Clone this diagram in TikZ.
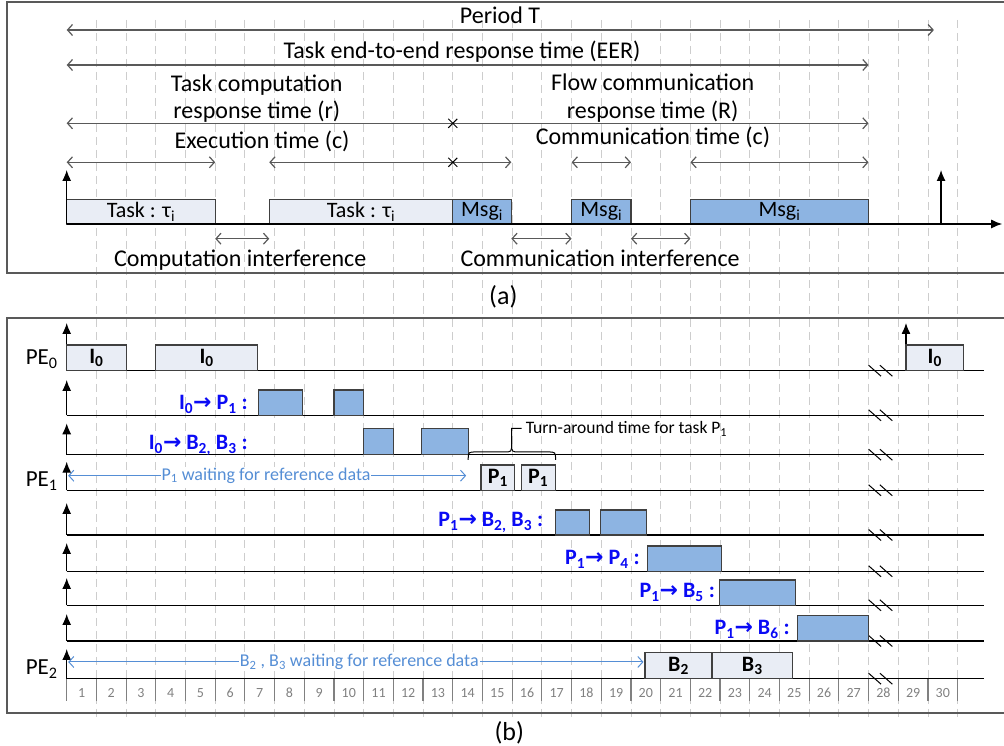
\documentclass[tikz,border=0pt]{standalone}
\usepackage{fontspec}
\setmainfont{Carlito}
\newfontfamily\arrfont{DejaVu Sans}
\usetikzlibrary{arrows.meta,calc,shapes.misc}

\definecolor{tasklight}{RGB}{233,237,245}
\definecolor{msgblue}{RGB}{141,180,226}
\definecolor{edgegray}{RGB}{64,64,64}
\definecolor{dimgray}{RGB}{89,89,89}
\definecolor{gridgray}{RGB}{205,205,205}
\definecolor{numgray}{RGB}{128,128,128}
\definecolor{flowblue}{RGB}{10,10,245}
\definecolor{waitblue}{RGB}{85,142,213}

\newcommand\arr{{\arrfont\bfseries →}}

\tikzset{
  gridline/.style={draw=gridgray, line width=0.9pt, dash pattern=on 8pt off 5pt},
  frame/.style={draw=dimgray, line width=1.5pt},
  taskbox/.style={draw=edgegray, fill=tasklight, line width=1.2pt},
  msgbox/.style={draw=edgegray, fill=msgblue, line width=1.2pt},
  axisline/.style={draw=black, line width=1.3pt},
  vec/.style={draw=black, line width=1.3pt, -{Latex[length=11pt,width=9pt]}},
  dimboth/.style={draw=dimgray, line width=1.2pt,
    {Straight Barb[length=5pt,width=11pt]}-{Straight Barb[length=5pt,width=11pt]}},
  dimleft/.style={draw=dimgray, line width=1.2pt, {Straight Barb[length=5pt,width=11pt]}-},
  dimright/.style={draw=dimgray, line width=1.2pt, -{Straight Barb[length=5pt,width=11pt]}},
  crossmark/.style={draw=black, cross out, line width=1pt, minimum size=8pt, inner sep=0pt},
  captext/.style={inner sep=0pt, anchor=base, font=\fontsize{24}{28}\selectfont},
  boxtext/.style={inner sep=0pt, font=\fontsize{22}{24}\selectfont},
  boxbold/.style={inner sep=0pt, font=\fontsize{22}{24}\selectfont\bfseries},
  flowtext/.style={inner sep=0pt, anchor=base east, text=flowblue,
    font=\fontsize{22}{24}\selectfont\bfseries},
  petext/.style={inner sep=0pt, anchor=base east, font=\fontsize{23}{26}\selectfont},
  waitarrow/.style={draw=waitblue, line width=1pt,
    {Straight Barb[length=5pt,width=11pt]}-{Straight Barb[length=5pt,width=11pt]}},
  waittext/.style={fill=white, inner sep=1pt, text=waitblue, font=\fontsize{18}{20}\selectfont},
  numtext/.style={inner sep=0pt, text=numgray, font=\fontsize{14}{16}\selectfont},
  tickline/.style={draw=numgray, line width=1.2pt},
  breakmark/.style={draw=black, line width=1pt}
}

\begin{document}
\begin{tikzpicture}[x=29.7pt, y=-1pt]
\useasboundingbox (-2.246,0) rectangle (31.56,746);

% grid
\foreach \k in {1,...,30}
  \draw[gridline] (\k,20) -- (\k,717);

% frames
\draw[frame] (-2.01,2) rectangle (31.9,273);
\draw[frame] (-2.01,318) rectangle (31.9,713);

%%% (a)
\coordinate (T0) at (0,0);
\coordinate (T5) at (5,0);
\coordinate (T6) at (6.82,0);
\coordinate (T13) at (13,0);
\coordinate (T15) at (14.97,0);
\coordinate (T17) at (17,0);
\coordinate (T19) at (19,0);
\coordinate (T21) at (21,0);
\coordinate (T27) at (27,0);
\coordinate (T29) at (29.2,0);
\coordinate (yper) at (0,30);
\coordinate (yeer) at (0,65);
\coordinate (yresp) at (0,123.3);
\coordinate (yexec) at (0,162.3);
\coordinate (yint) at (0,238.7);

\path[taskbox] (0,199.3) rectangle (5,224) node[midway, boxtext] (task1) {Task : τ\textsubscript{i}};
\path[taskbox] (6.82,199.3) rectangle (13,224) node[midway, boxtext] (task2) {Task : τ\textsubscript{i}};
\path[msgbox] (13,199.3) rectangle (14.97,224) node[midway, boxtext] (msg1) {Msg\textsubscript{i}};
\path[msgbox] (17,199.3) rectangle (19,224) node[midway, boxtext] (msg2) {Msg\textsubscript{i}};
\path[msgbox] (21,199.3) rectangle (27,224) node[midway, boxtext] (msg3) {Msg\textsubscript{i}};

\draw[axisline, -{Latex[length=11pt,width=9pt]}] (0,224) -- (31.5,224);
\draw[vec] (0,224) -- (0,170);
\draw[vec] (29.44,224) -- (29.44,170);

\draw[dimboth] (T0 |- yper) -- (T29 |- yper);
\draw[dimboth] (T0 |- yeer) -- (T27 |- yeer);
\draw[dimleft] (T0 |- yresp) -- (T13 |- yresp);
\draw[dimright] (T13 |- yresp) -- (T27 |- yresp);
\draw[dimboth] (T0 |- yexec) -- (T5 |- yexec);
\draw[dimleft] (T6 |- yexec) -- (T13 |- yexec);
\draw[dimright] (T13 |- yexec) -- (T15 |- yexec);
\draw[dimboth] (T17 |- yexec) -- (T19 |- yexec);
\draw[dimboth] (T21 |- yexec) -- (T27 |- yexec);
\draw[dimboth] (T5 |- yint) -- (T6 |- yint);
\draw[dimboth] (T15 |- yint) -- (T17 |- yint);
\draw[dimboth] (T19 |- yint) -- (T21 |- yint);
\node[crossmark] (xresp) at (T13 |- yresp) {};
\node[crossmark] (xexec) at (T13 |- yexec) {};

\node[captext] (period) at (14.59,24) {Period T};
\node[captext] (eer) at (13.31,58.3) {Task end-to-end response time (EER)};
\node[captext] (tcr1) at (6.4,91.7) {Task computation};
\node[captext] (tcr2) at (6.4,119) {response time (r)};
\node[captext] (exec) at (6.58,148.3) {Execution time (c)};
\node[captext] (fcr1) at (19.73,90.7) {Flow communication};
\node[captext] (fcr2) at (19.73,118.3) {response time (R)};
\node[captext] (comm) at (19.74,145) {Communication time (c)};
\node[captext] (cint) at (5.84,266.7) {Computation interference};
\node[captext] (mint) at (17.96,266.7) {Communication interference};
\node[captext, anchor=center, font=\fontsize{26}{28}\selectfont] (laba) at (14.7,297) {(a)};

%%% (b)
\foreach \b/\t in {370.7/323, 415.3/380, 454.7/423.3, 490.3/461.7, 535/503,
                   571.3/543, 605.3/578, 641/614, 678.7/649} {
  \draw[axisline] (0,\b) -- (30.89,\b);
  \draw[vec] (0,\b) -- (0,\t);
  \draw[breakmark] (27.0,\b-5.5) -- (27.42,\b+5.5) (27.38,\b-5.5) -- (27.8,\b+5.5);
}
\draw[vec] (28.26,370.7) -- (28.26,323);

% PE0
\path[taskbox] (0,345) rectangle (2,370.7) node[midway, boxbold] (i0a) {I\textsubscript{0}};
\path[taskbox] (3,345) rectangle (6.42,370.7) node[midway, boxbold] (i0b) {I\textsubscript{0}};
\path[taskbox] (28.26,345) rectangle (30.2,370.7) node[midway, boxbold] (i0c) {I\textsubscript{0}};
% flows
\path[msgbox] (6.45,390) rectangle (7.95,415.3) coordinate (f1a);
\path[msgbox] (9,390) rectangle (10,415.3) coordinate (f1b);
\path[msgbox] (10,428.3) rectangle (11,454.7) coordinate (f2a);
\path[msgbox] (11.95,428.3) rectangle (13.52,454.7) coordinate (f2b);
\path[msgbox] (16.45,510) rectangle (17.59,535) coordinate (f3a);
\path[msgbox] (17.98,510) rectangle (19.53,535) coordinate (f3b);
\path[msgbox] (19.55,546) rectangle (22.04,571.3) coordinate (f4);
\path[msgbox] (21.99,580) rectangle (24.53,605.3) coordinate (f5);
\path[msgbox] (24.61,615.7) rectangle (27,641) coordinate (f6);
% PE1
\path[taskbox] (13.95,465) rectangle (15.09,490.3) node[midway, boxbold] (p1a) {P\textsubscript{1}};
\path[taskbox] (15.3,465) rectangle (16.45,490.3) node[midway, boxbold] (p1b) {P\textsubscript{1}};
% PE2
\path[taskbox] (19.47,652.7) rectangle (21.73,678.7) node[midway, boxbold] (b2) {B\textsubscript{2}};
\path[taskbox] (21.73,652.7) rectangle (24.44,678.7) node[midway, boxbold] (b3) {B\textsubscript{3}};

\node[flowtext] (l1) at (6.1,410) {I\textsubscript{0}\arr\ P\textsubscript{1} :};
\node[flowtext] (l2) at (6.1,450) {I\textsubscript{0}\arr\ B\textsubscript{2,} B\textsubscript{3} :};
\node[flowtext] (l3) at (16.05,527) {P\textsubscript{1}\arr\ B\textsubscript{2,} B\textsubscript{3} :};
\node[flowtext] (l4) at (19.3,565) {P\textsubscript{1}\arr\ P\textsubscript{4} :};
\node[flowtext] (l5) at (21.83,598) {P\textsubscript{1}\arr\ B\textsubscript{5} :};
\node[flowtext] (l6) at (24.35,635) {P\textsubscript{1}\arr\ B\textsubscript{6} :};

\node[petext] (pe0) at (-0.3,365) {PE\textsubscript{0}};
\node[petext] (pe1) at (-0.3,486.7) {PE\textsubscript{1}};
\node[petext] (pe2) at (-0.3,675) {PE\textsubscript{2}};

% waiting
\coordinate (w1s) at (0.05,475.7);
\coordinate (w1e) at (13.45,475.7);
\coordinate (w2s) at (0.05,662);
\coordinate (w2e) at (19.42,662);
\draw[waitarrow] (w1s) -- node[waittext, pos=0.497] (w1) {P\textsubscript{1} waiting for reference data} (w1e);
\draw[waitarrow] (w2s) -- node[waittext, pos=0.506] (w2) {B\textsubscript{2} , B\textsubscript{3} waiting for reference data} (w2e);

% turn-around brace
\draw[line width=1pt] (13.52,460) .. controls (13.52,452) .. (13.78,452) -- (14.72,452)
  .. controls (14.98,452) .. (14.98,444) -- (14.98,428.3) -- (15.32,428.3);
\draw[line width=1pt] (14.98,444) .. controls (14.98,452) .. (15.26,452) -- (16.2,452)
  .. controls (16.46,452) .. (16.46,460);
\node[inner sep=0pt, anchor=base west, font=\fontsize{17.5}{19}\selectfont] (turn)
  at (15.45,434) {Turn-around time for task P\textsubscript{1}};

% time scale
\foreach \k in {0,...,30}
  \draw[tickline] (\k,678.7) -- (\k,700.7);
\foreach \k in {1,...,30}
  \node[numtext] (n\k) at (\k-0.5,692.7) {\k};

\node[captext, anchor=center, font=\fontsize{26}{28}\selectfont] (labb) at (14.9,733) {(b)};
\end{tikzpicture}
\end{document}
